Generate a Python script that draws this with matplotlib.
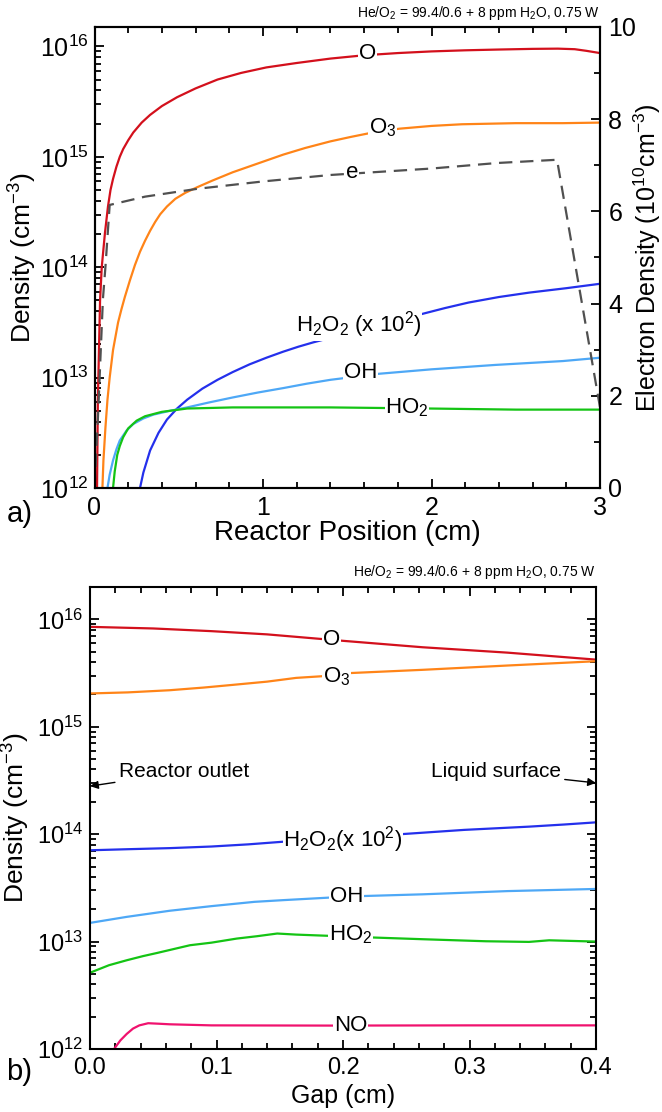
import matplotlib
matplotlib.use("Agg")
import numpy as np
import matplotlib.pyplot as plt
from matplotlib.ticker import MultipleLocator, LogLocator, NullFormatter

plt.rcParams['font.family'] = ['Liberation Sans', 'DejaVu Sans']
plt.rcParams['mathtext.fontset'] = 'custom'
plt.rcParams['mathtext.rm'] = 'Liberation Sans'
plt.rcParams['mathtext.it'] = 'Liberation Sans:italic'
plt.rcParams['mathtext.bf'] = 'Liberation Sans:bold'

title = r'He/O$_2$ = 99.4/0.6 + 8 ppm H$_2$O, 0.75 W'

# ---- panel a) reactor position (cm) vs log10 density (cm^-3)
o_x = [0.015, 0.02, 0.033, 0.043, 0.062, 0.08, 0.095, 0.11, 0.13, 0.15, 0.17, 0.2, 0.23, 0.28,
       0.33, 0.4, 0.49, 0.6, 0.73, 0.87, 1.02, 1.2, 1.4, 1.6, 1.8, 2.0, 2.2, 2.4, 2.6, 2.75, 2.85,
       2.92, 3.0]
o_log = [12.0, 12.8, 13.7, 14.0, 14.31, 14.55, 14.7, 14.8, 14.91, 15.0, 15.07, 15.15, 15.22, 15.31,
         15.38, 15.46, 15.54, 15.62, 15.7, 15.76, 15.81, 15.85, 15.89, 15.92, 15.94, 15.955, 15.965,
         15.972, 15.978, 15.98, 15.975, 15.96, 15.94]

o3_x = [0.047, 0.053, 0.065, 0.077, 0.09, 0.11, 0.14, 0.16, 0.18, 0.21, 0.24, 0.27, 0.3, 0.33,
        0.36, 0.39, 0.43, 0.48, 0.54, 0.61, 0.7, 0.82, 0.97, 1.12, 1.25, 1.4, 1.52, 1.65, 1.81,
        2.0, 2.18, 2.5, 2.78, 3.0]
o3_log = [12.0, 12.25, 12.55, 12.8, 13.0, 13.25, 13.5, 13.62, 13.73, 13.88, 14.02, 14.14, 14.24,
          14.33, 14.41, 14.48, 14.55, 14.62, 14.675, 14.725, 14.785, 14.86, 14.94, 15.02, 15.08,
          15.14, 15.18, 15.22, 15.255, 15.28, 15.295, 15.305, 15.305, 15.31]

h2o2_x = [0.27, 0.29, 0.33, 0.38, 0.43, 0.49, 0.55, 0.64, 0.73, 0.82, 0.92, 1.02, 1.12, 1.21, 1.3,
          1.45, 1.6, 1.8, 1.94, 2.08, 2.22, 2.4, 2.58, 2.8, 3.0]
h2o2_log = [12.0, 12.14, 12.34, 12.5, 12.62, 12.72, 12.8, 12.9, 12.98, 13.05, 13.12, 13.18, 13.235,
            13.28, 13.32, 13.38, 13.44, 13.52, 13.575, 13.63, 13.68, 13.73, 13.77, 13.81, 13.85]

oh_x = [0.077, 0.09, 0.11, 0.13, 0.15, 0.19, 0.23, 0.29, 0.35, 0.45, 0.55, 0.68, 0.82, 0.97, 1.12,
        1.26, 1.4, 1.69, 2.0, 2.38, 2.78, 3.0]
oh_log = [12.0, 12.12, 12.25, 12.35, 12.43, 12.52, 12.58, 12.63, 12.665, 12.7, 12.73, 12.775,
          12.82, 12.865, 12.905, 12.945, 12.98, 13.035, 13.075, 13.115, 13.15, 13.18]

ho2_x = [0.11, 0.12, 0.135, 0.15, 0.17, 0.2, 0.25, 0.3, 0.4, 0.55, 0.82, 1.4, 1.99, 2.5, 3.0]
ho2_log = [12.0, 12.15, 12.3, 12.38, 12.46, 12.54, 12.61, 12.65, 12.69, 12.72, 12.73, 12.73, 12.72,
           12.71, 12.71]

# electron density, 10^10 cm^-3 (right axis)
e_x = [0.0, 0.02, 0.05, 0.065, 0.09, 0.3, 0.61, 1.0, 1.4, 2.0, 2.39, 2.745, 3.0]
e_y = [0.0, 1.5, 4.1, 4.8, 6.14, 6.32, 6.49, 6.65, 6.79, 6.93, 7.05, 7.12, 1.75]

# ---- panel b) gap (cm) vs log10 density (cm^-3)
gO_x = [0.0, 0.05, 0.096, 0.14, 0.18, 0.2, 0.263, 0.33, 0.4]
gO_log = [15.93, 15.915, 15.89, 15.86, 15.82, 15.80, 15.74, 15.69, 15.625]

gO3_x = [0.0, 0.03, 0.063, 0.09, 0.113, 0.14, 0.163, 0.183, 0.206, 0.263, 0.33, 0.4]
gO3_log = [15.31, 15.32, 15.34, 15.365, 15.39, 15.42, 15.455, 15.47, 15.5, 15.53, 15.57, 15.61]

gH2O2_x = [0.0, 0.03, 0.063, 0.096, 0.125, 0.153, 0.2, 0.246, 0.296, 0.347, 0.375, 0.4]
gH2O2_log = [13.85, 13.86, 13.87, 13.885, 13.905, 13.93, 13.965, 14.0, 14.04, 14.07, 14.09, 14.11]

gOH_x = [0.0, 0.029, 0.063, 0.096, 0.13, 0.153, 0.19, 0.216, 0.263, 0.33, 0.4]
gOH_log = [13.174, 13.23, 13.287, 13.33, 13.37, 13.386, 13.41, 13.424, 13.44, 13.47, 13.49]

gHO2_x = [0.0, 0.015, 0.029, 0.042, 0.053, 0.066, 0.079, 0.096, 0.116, 0.132, 0.148, 0.163, 0.19,
          0.226, 0.263, 0.313, 0.347, 0.363, 0.4]
gHO2_log = [12.71, 12.78, 12.826, 12.865, 12.894, 12.93, 12.966, 12.99, 13.028, 13.05, 13.075,
            13.065, 13.053, 13.037, 13.022, 13.003, 12.997, 13.012, 13.0]

gNO_x = [0.019, 0.024, 0.029, 0.034, 0.039, 0.046, 0.055, 0.063, 0.096, 0.19, 0.3, 0.4]
gNO_log = [12.0, 12.08, 12.14, 12.19, 12.22, 12.24, 12.235, 12.23, 12.22, 12.218, 12.22, 12.22]

c_O = '#d3101c'
c_O3 = '#ff8418'
c_H2O2 = '#2430ec'
c_OH = '#4ea8f6'
c_HO2 = '#14c414'
c_NO = '#f0126e'
c_e = '#505050'
lw = 1.6
lab = dict(ha='center', va='center', bbox=dict(fc='white', ec='none', pad=0.5))


def dens(v):
    return np.power(10.0, v)


fig = plt.figure(figsize=(6.62, 11.12), dpi=100)

# ================= panel a
ax = fig.add_axes([94.5 / 662, 1 - 488 / 1112, 505.5 / 662, 461 / 1112])
ax.set_yscale('log')
ax.plot(o_x, dens(o_log), color=c_O, lw=lw)
ax.plot(o3_x, dens(o3_log), color=c_O3, lw=lw)
ax.plot(h2o2_x, dens(h2o2_log), color=c_H2O2, lw=lw)
ax.plot(oh_x, dens(oh_log), color=c_OH, lw=lw)
ax.plot(ho2_x, dens(ho2_log), color=c_HO2, lw=lw)
ax.set_xlim(0, 3)
ax.set_ylim(1e12, 1.5e16)
ax.xaxis.set_major_locator(MultipleLocator(1))
ax.xaxis.set_minor_locator(MultipleLocator(0.2))
ax.yaxis.set_minor_locator(LogLocator(base=10, subs=range(2, 10), numticks=20))
ax.yaxis.set_minor_formatter(NullFormatter())
ax.tick_params(which='both', direction='in', top=True, right=False, width=1.3)
ax.tick_params(which='major', length=6.5)
ax.tick_params(which='minor', length=4)
ax.tick_params(axis='x', labelsize=18, pad=6)
ax.tick_params(axis='y', labelsize=18, pad=4)
for s in ax.spines.values():
    s.set_linewidth(1.5)
ax.set_xlabel('Reactor Position (cm)', fontsize=20)
ax.xaxis.set_label_coords(0.5, -0.07)
ax.set_ylabel('Density (cm$^{-3}$)', fontsize=19)
ax.yaxis.set_label_coords(-0.11, 0.5)

ax.text(1.62, 8.7e15, 'O', fontsize=16, **lab)
ax.text(1.71, 1.85e15, 'O$_3$', fontsize=16, **lab)
ax.text(1.57, 3.0e13, 'H$_2$O$_2$ (x 10$^2$)', fontsize=16, **lab)
ax.text(1.58, 1.12e13, 'OH', fontsize=16, **lab)
ax.text(1.855, 5.3e12, 'HO$_2$', fontsize=16, **lab)
ax.text(1.0, 1.03, title, transform=ax.transAxes, ha='right', va='center', fontsize=10)
fig.text(20 / 662, 1 - 514 / 1112, 'a)', fontsize=21, ha='center', va='center')

ax2 = ax.twinx()
ax2.plot(e_x, e_y, color=c_e, lw=lw, ls=(0, (6, 3.5)))
ax2.text(1.53, 6.85, 'e', fontsize=16, **lab)
ax2.set_ylim(0, 10)
ax2.yaxis.set_major_locator(MultipleLocator(2))
ax2.yaxis.set_minor_locator(MultipleLocator(1))
ax2.tick_params(which='both', direction='in', width=1.3)
ax2.tick_params(which='major', length=6.5, labelsize=18, pad=6)
ax2.tick_params(which='minor', length=4)
ax2.set_ylabel('Electron Density (10$^{10}$cm$^{-3}$)', fontsize=18)
ax2.yaxis.set_label_coords(1.063, 0.5)
for s in ax2.spines.values():
    s.set_linewidth(1.5)

# ================= panel b
bx = fig.add_axes([90 / 662, 1 - 1049 / 1112, 506 / 662, 462 / 1112])
bx.set_yscale('log')
bx.plot(gO_x, dens(gO_log), color=c_O, lw=lw)
bx.plot(gO3_x, dens(gO3_log), color=c_O3, lw=lw)
bx.plot(gH2O2_x, dens(gH2O2_log), color=c_H2O2, lw=lw)
bx.plot(gOH_x, dens(gOH_log), color=c_OH, lw=lw)
bx.plot(gHO2_x, dens(gHO2_log), color=c_HO2, lw=lw)
bx.plot(gNO_x, dens(gNO_log), color=c_NO, lw=lw)
bx.set_xlim(0, 0.4)
bx.set_ylim(1e12, 2e16)
bx.xaxis.set_major_locator(MultipleLocator(0.1))
bx.xaxis.set_minor_locator(MultipleLocator(0.02))
bx.yaxis.set_minor_locator(LogLocator(base=10, subs=range(2, 10), numticks=20))
bx.yaxis.set_minor_formatter(NullFormatter())
bx.xaxis.set_major_formatter(plt.FuncFormatter(lambda v, p: '%.1f' % v))
bx.tick_params(which='both', direction='in', top=True, right=True, width=1.3)
bx.tick_params(which='major', length=6.5)
bx.tick_params(which='minor', length=4)
bx.tick_params(axis='x', labelsize=17, pad=6)
bx.tick_params(axis='y', labelsize=17, pad=5)
for s in bx.spines.values():
    s.set_linewidth(1.5)
bx.set_xlabel('Gap (cm)', fontsize=18)
bx.xaxis.set_label_coords(0.5, -0.075)
bx.set_ylabel('Density (cm$^{-3}$)', fontsize=19)
bx.yaxis.set_label_coords(-0.115, 0.5)

bx.text(0.191, 6.5e15, 'O', fontsize=16, **lab)
bx.text(0.195, 2.95e15, 'O$_3$', fontsize=16, **lab)
bx.text(0.2, 9.0e13, 'H$_2$O$_2$(x 10$^2$)', fontsize=16, **lab)
bx.text(0.203, 2.65e13, 'OH', fontsize=16, **lab)
bx.text(0.206, 1.15e13, 'HO$_2$', fontsize=16, **lab)
bx.text(0.206, 1.65e12, 'NO', fontsize=16, **lab)
bx.text(1.0, 1.032, title, transform=bx.transAxes, ha='right', va='center', fontsize=10)
fig.text(19 / 662, 1 - 1072 / 1112, 'b)', fontsize=21, ha='center', va='center')

arr = dict(arrowstyle='-|>', color='black', lw=1, mutation_scale=12, shrinkA=1, shrinkB=0)
bx.annotate('Reactor outlet', xy=(0.0, 2.8e14), xytext=(0.023, 3.8e14), fontsize=15,
            ha='left', va='center', arrowprops=arr)
bx.annotate('Liquid surface', xy=(0.4, 3.0e14), xytext=(0.372, 3.8e14), fontsize=15,
            ha='right', va='center', arrowprops=arr)

fig.savefig('out.png', dpi=100)
